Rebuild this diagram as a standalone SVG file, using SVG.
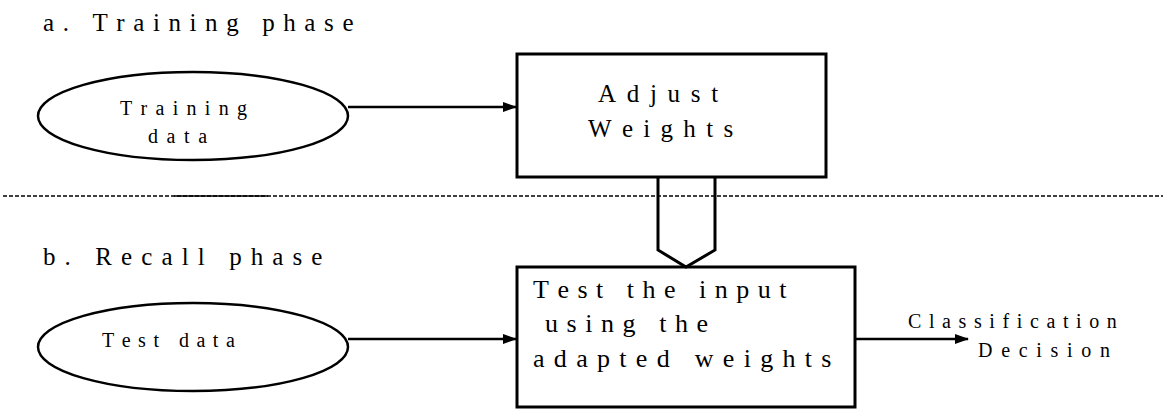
<svg xmlns="http://www.w3.org/2000/svg" width="1163" height="410" viewBox="0 0 1163 410">
<defs>
<marker id="ah" markerWidth="14" markerHeight="10" refX="13" refY="5" orient="auto" markerUnits="userSpaceOnUse">
<path d="M0,0 L14,5 L0,10 Z" fill="#000"/>
</marker>
</defs>
<g id="phase-labels">
<text font-family="'Liberation Serif', 'Times New Roman', serif" font-size="25" y="31" x="43 62.7 77.55 92.4 116.28 133.21 152.91 168.46 189.56 205.11 226.21 247.31 262.16 283.26 304.36 324.06 342.39">a. Training phase</text>
<text font-family="'Liberation Serif', 'Times New Roman', serif" font-size="25" y="265" x="43 64.6 79.95 95.3 121.08 141.28 161.48 181.68 197.73 213.78 229.13 250.73 272.33 292.53 311.36">b. Recall phase</text>
</g>
<g id="divider">
<line x1="3" y1="196" x2="1163" y2="196" stroke="#000" stroke-width="1.5" stroke-dasharray="4,2"/>
<line x1="174" y1="196" x2="268" y2="196" stroke="#000" stroke-width="1.5"/>
</g>
<g id="training-data">
<ellipse cx="193" cy="116" rx="155" ry="44" fill="#fff" stroke="#000" stroke-width="2.5"/>
<text font-family="'Liberation Serif', 'Times New Roman', serif" font-size="20" y="115" x="120 140.52 155.48 172.66 186.52 204.82 218.68 236.98">Training</text>
<text font-family="'Liberation Serif', 'Times New Roman', serif" font-size="20" y="143" x="148 166.6 184.08 198.24">data</text>
</g>
<g id="adjust-weights">
<rect x="517" y="54" width="309" height="123" fill="#fff" stroke="#000" stroke-width="3"/>
<text font-family="'Liberation Serif', 'Times New Roman', serif" font-size="25" y="102" x="598 626.75 649.95 667.6 690.8 711.23">Adjust</text>
<text font-family="'Liberation Serif', 'Times New Roman', serif" font-size="25" y="137" x="588 621.9 643.3 660.55 683.35 706.15 723.4">Weights</text>
</g>
<g id="test-data">
<ellipse cx="193" cy="347" rx="155" ry="44" fill="#fff" stroke="#000" stroke-width="2.5"/>
<text font-family="'Liberation Serif', 'Times New Roman', serif" font-size="20" y="347" x="102 121.72 138.1 153.38 166.44 178.94 196.44 212.82 225.88">Test data</text>
</g>
<g id="test-input">
<rect x="517" y="267" width="338" height="140" fill="#fff" stroke="#000" stroke-width="3"/>
<text font-family="'Liberation Serif', 'Times New Roman', serif" font-size="26" y="298" x="533 557.39 577.43 596.04 611.77 626.77 642.5 664 684.04 699.04 714.77 736.27 757.77 779.27">Test the input</text>
<text font-family="'Liberation Serif', 'Times New Roman', serif" font-size="26" y="332" x="545 566.55 585.21 600.99 622.54 644.09 659.14 674.92 696.47">using the</text>
<text font-family="'Liberation Serif', 'Times New Roman', serif" font-size="26" y="367" x="533 553.84 576.14 596.98 619.28 635.81 656.65 678.95 694.75 722.82 743.66 760.19 782.49 804.79 821.32">adapted weights</text>
</g>
<g id="classification">
<text font-family="'Liberation Serif', 'Times New Roman', serif" font-size="20" y="328" x="908 928.94 942.1 958.58 973.96 989.34 1002.5 1016.76 1029.92 1046.4 1062.88 1076.04 1089.2 1106.8">Classification</text>
<text font-family="'Liberation Serif', 'Times New Roman', serif" font-size="20" y="357" x="978 1001.14 1018.72 1036.3 1050.56 1067.04 1081.3 1100">Decision</text>
</g>
<g id="connectors" fill="none" stroke="#000" stroke-width="2.5">
<line x1="348" y1="107" x2="516" y2="107" marker-end="url(#ah)"/>
<line x1="348" y1="339" x2="516" y2="339" marker-end="url(#ah)"/>
<line x1="855" y1="339" x2="968" y2="339" marker-end="url(#ah)"/>
<path d="M658,177 L658,250 L686,267 L715,250 L715,177" stroke-width="3"/>
</g>
</svg>
